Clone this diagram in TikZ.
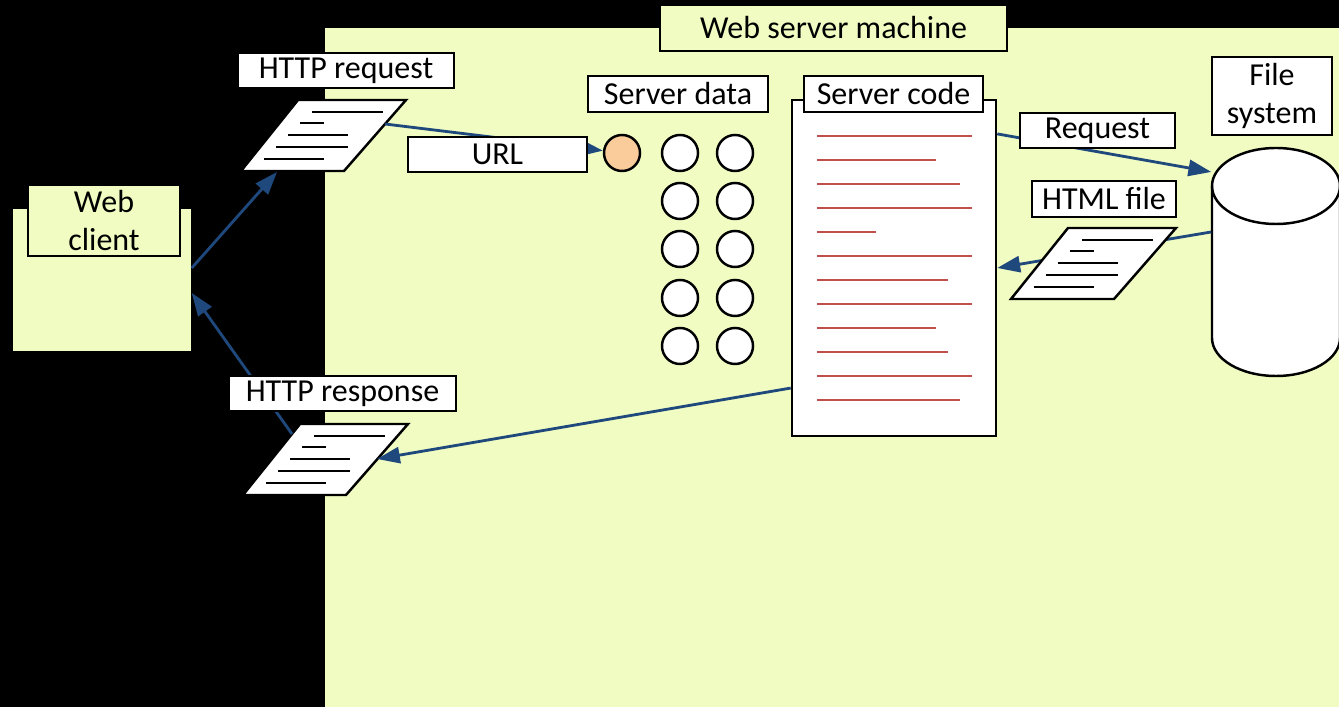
\documentclass[tikz,border=0pt]{standalone}
\usepackage{fontspec}
\setmainfont{Carlito}
\usetikzlibrary{arrows.meta,calc}
\definecolor{paneyellow}{RGB}{241,252,194}
\definecolor{flowblue}{RGB}{31,73,125}
\definecolor{codered}{RGB}{192,80,77}
\definecolor{slotorange}{RGB}{250,204,156}
\tikzset{
  box/.style={draw=black,line width=0.7pt,fill=white,inner sep=0pt,align=center},
  ybox/.style={box,fill=paneyellow},
  slot/.style={circle,draw=black,line width=0.7pt,fill=white,minimum size=0.36cm,inner sep=0pt},
  flow/.style={draw=flowblue,line width=0.8pt,-{Triangle[length=6.5pt,width=4.6pt]}},
  codeline/.style={draw=codered,line width=0.8pt},
  txtline/.style={draw=black,line width=0.7pt},
  doc/.pic={
    \draw[line width=0.7pt,fill=white] (0,0) -- (108,0) -- (46,71) -- (-57,71) -- cycle;
    \draw[txtline] (14,12) -- (85,12);
    \draw[txtline] (2,23) -- (26,23);
    \draw[txtline] (-10,35) -- (50,35);
    \draw[txtline] (-22,47) -- (50,47);
    \draw[txtline] (-34,59) -- (26,59);
    \coordinate (-b) at (-21,72);
    \coordinate (-l) at (-8,10);
    \coordinate (-r1) at (87,24);
    \coordinate (-r2) at (77,35);
  }
}
\begin{document}
\begin{tikzpicture}[x=0.01cm,y=-0.01cm,font=\fontsize{9.1}{10.9}\selectfont]
\useasboundingbox (0,0) rectangle (1339,707);
% backdrop and server machine area
\fill[black] (0,0) rectangle (1339,707);
\fill[paneyellow] (325,28) rectangle (1339,707);
\node[ybox,minimum width=3.47cm,minimum height=0.46cm] (machine) at (833.5,28) {Web server machine};

% web client
\node[fill=paneyellow,inner sep=0pt,minimum width=1.78cm,minimum height=1.42cm] (client) at (102,280) {};
\node[ybox,minimum width=1.52cm,minimum height=0.71cm] (clientlbl) at (104,220.5) {Web\\client};

% server code listing
\node[box,minimum width=2.04cm,minimum height=3.36cm] (code) at (894,268) {};
\foreach \y/\e in {136/972,160/936,184/960,208/972,232/876,256/972,280/948,304/972,328/936,352/948,376/972,400/960}
  \draw[codeline] (817,\y) -- (\e,\y);
\node[box,minimum width=1.79cm,minimum height=0.36cm] (codelbl) at (893.5,94) {Server code};

% server data slots
\node[slot,fill=slotorange] (s0) at (622,153) {};
\foreach \r/\y in {1/153,2/201,3/249,4/298,5/346} {
  \node[slot] (a\r) at (680,\y) {};
  \node[slot] (b\r) at (735,\y) {};
}
\node[box,minimum width=1.80cm,minimum height=0.36cm] (datalbl) at (678,94) {Server data};

% file system cylinder (y axis points down, so angle 90 is the lower side)
\node[inner sep=0pt,minimum width=1.28cm,minimum height=2.28cm] (fs) at (1276,262) {};
\draw[line width=0.7pt,fill=white] (1212,186) -- (1212,338)
  arc[start angle=180,end angle=0,x radius=64,y radius=38] -- (1340,186)
  arc[start angle=0,end angle=-180,x radius=64,y radius=38] -- cycle;
\draw[line width=0.7pt] (1212,186) arc[start angle=180,end angle=0,x radius=64,y radius=38];
\node[box,minimum width=1.20cm,minimum height=0.78cm] (fslbl) at (1272,96) {File\\system};

% documents
\pic (req) at (298,100) {doc};
\pic (resp) at (300,424) {doc};

% request path
\draw[flow] ([yshift=0.12cm]client.east) -- (req-b);
\draw[flow] (req-r1) -- (s0);
\node[box,minimum width=1.79cm,minimum height=0.35cm] (urllbl) at (497.5,154.5) {URL};
\draw[flow] ([yshift=1.34cm]code.east) -- ([yshift=0.9cm]fs.west);
\node[box,minimum width=1.55cm,minimum height=0.35cm] (rqlbl) at (1097.5,130.5) {Request};

% file returned to the code
\draw[flow] ([yshift=0.3cm]fs.west) -- (code.east);
\pic (html) at (1068,228) {doc};
\node[box,minimum width=1.44cm,minimum height=0.36cm] (htmllbl) at (1104,199) {HTML file};

% response path
\draw[flow] ([yshift=-1.2cm]code.west) -- (resp-r2);
\draw[flow] (resp-l) -- ([yshift=-0.13cm]client.east);

\node[box,minimum width=2.16cm,minimum height=0.35cm] (reqlbl) at (346,70.5) {HTTP request};
\node[box,minimum width=2.27cm,minimum height=0.35cm] (resplbl) at (342.5,393.5) {HTTP response};
\end{tikzpicture}
\end{document}
